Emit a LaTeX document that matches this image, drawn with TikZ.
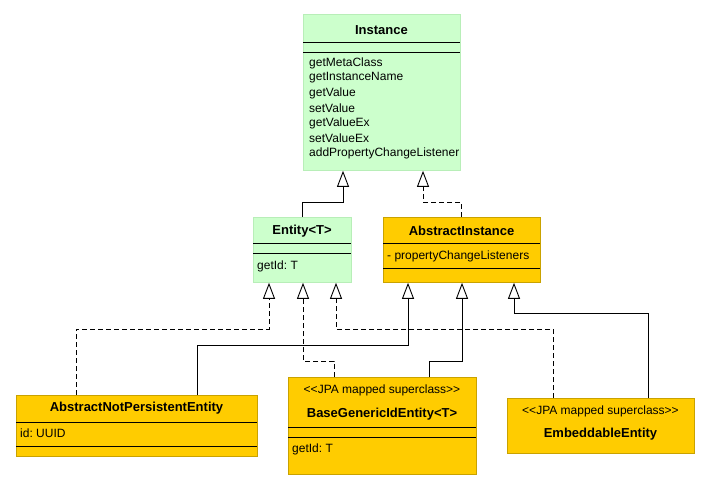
\documentclass[tikz,border=0pt]{standalone}
\usepackage{fontspec}
\setmainfont{Liberation Sans}[Ligatures=ResetAll]
\usetikzlibrary{arrows.meta}
\frenchspacing
\definecolor{umlgreen}{HTML}{CCFFCC}
\definecolor{umlgreenborder}{HTML}{B8EEB8}
\definecolor{umlyellow}{HTML}{FFCC00}
\definecolor{umlyellowborder}{HTML}{C9A200}
\tikzset{
  greenbox/.style={draw=umlgreenborder, fill=umlgreen, line width=0.8pt, inner sep=0pt, anchor=north west},
  yellowbox/.style={draw=umlyellowborder, fill=umlyellow, line width=0.8pt, inner sep=0pt, anchor=north west},
  sep/.style={draw=black, line width=0.9pt},
  title/.style={font=\fontsize{13}{15}\selectfont\bfseries, inner sep=0pt},
  member/.style={font=\fontsize{12}{14}\selectfont, inner sep=0pt, anchor=west},
  stereo/.style={font=\fontsize{12}{14}\selectfont, inner sep=0pt},
  gen/.style={draw=black, line width=0.9pt, -{Triangle[open, length=16pt, width=12pt, fill=white]}},
  real/.style={gen, dash pattern=on 5pt off 3pt},
}
\begin{document}
\begin{tikzpicture}[x=1pt, y=-1pt]
\useasboundingbox (0,0) rectangle (711,490);
\fill[white] (0,0) rectangle (711,490);

% Instance
\node[greenbox, minimum width=157pt, minimum height=156pt] (inst) at (303,14) {};
\node[title] (instT) at (381.5,30) {Instance};
\draw[sep] (303,42) -- (460,42);
\draw[sep] (303,52) -- (460,52);
\node[member] (m1) at (309,63) {getMetaClass};
\node[member] (m2) at (309,78) {getInstanceName};
\node[member] (m3) at (309,93) {getValue};
\node[member] (m4) at (309,108) {setValue};
\node[member] (m5) at (309,123) {getValueEx};
\node[member] (m6) at (309,138) {setValueEx};
\node[member] (m7) at (309,153.5) {addPropertyChangeListener};

% Entity<T>
\node[greenbox, minimum width=98pt, minimum height=65pt] (ent) at (253,217) {};
\node[title] (entT) at (302,231) {Entity<T>};
\draw[sep] (253,243) -- (351,243);
\draw[sep] (253,253) -- (351,253);
\node[member] (entM) at (257,266) {getId: T};

% AbstractInstance
\node[yellowbox, minimum width=157pt, minimum height=65pt] (ai) at (383,217) {};
\node[title] (aiT) at (461.5,231) {AbstractInstance};
\draw[sep] (383,243) -- (540,243);
\draw[sep] (383,268) -- (540,268);
\node[member] (aiA) at (387,256) {- propertyChangeListeners};

% AbstractNotPersistentEntity
\node[yellowbox, minimum width=241pt, minimum height=61pt] (anpe) at (16,395) {};
\node[title] (anpeT) at (136.5,408) {AbstractNotPersistentEntity};
\draw[sep] (16,422) -- (257,422);
\draw[sep] (16,446) -- (257,446);
\node[member] (anpeA) at (20,433) {id: UUID};

% BaseGenericIdEntity<T>
\node[yellowbox, minimum width=188pt, minimum height=97pt] (bgie) at (288,377) {};
\node[stereo] (bgieS) at (382,390) {{<}{<}JPA mapped superclass{>}{>}};
\node[title] (bgieT) at (382,414) {BaseGenericIdEntity<T>};
\draw[sep] (288,427) -- (476,427);
\draw[sep] (288,437) -- (476,437);
\node[member] (bgieM) at (292,449) {getId: T};

% EmbeddableEntity
\node[yellowbox, minimum width=187pt, minimum height=55pt] (ee) at (507,398) {};
\node[stereo] (eeS) at (600.5,411) {{<}{<}JPA mapped superclass{>}{>}};
\node[title] (eeT) at (600.5,434) {EmbeddableEntity};

% Connectors to Instance
\draw[gen] ([xshift=49pt]ent.north west) -- ++(0,-15) -| ([xshift=40pt]inst.south west);
\draw[real] ([xshift=78pt]ai.north west) -- ++(0,-15) -| ([xshift=120pt]inst.south west);

% Connectors from lower classes
\draw[real] ([xshift=60pt]anpe.north west) -- ++(0,-66) -| ([xshift=16pt]ent.south west);
\draw[gen] ([xshift=181pt]anpe.north west) -- ++(0,-50) -| ([xshift=25pt]ai.south west);
\draw[real] ([xshift=46pt]bgie.north west) -- ++(0,-16) -| ([xshift=50pt]ent.south west);
\draw[gen] ([xshift=141pt]bgie.north west) -- ++(0,-16) -| ([xshift=79pt]ai.south west);
\draw[real] ([xshift=46pt]ee.north west) -- ++(0,-69) -| ([xshift=83pt]ent.south west);
\draw[gen] ([xshift=141pt]ee.north west) -- ++(0,-85) -| ([xshift=131pt]ai.south west);
\end{tikzpicture}
\end{document}
